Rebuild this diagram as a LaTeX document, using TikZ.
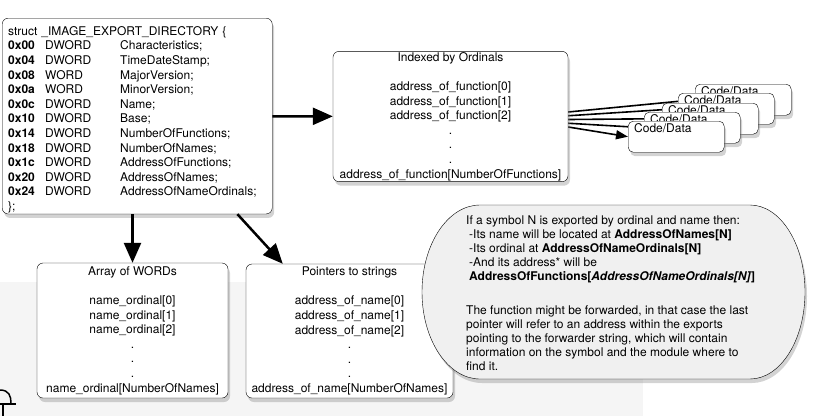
\documentclass[tikz,border=0pt]{standalone}
\usepackage{fontspec}
\setmainfont{TeX Gyre Heros}
\usetikzlibrary{positioning, arrows.meta, shadows}
\pgfdeclarelayer{background}
\pgfsetlayers{background,main}
\newcommand{\structrow}[3]{\makebox[37pt][l]{\bfseries #1}\makebox[75pt][l]{#2}#3}

\begin{document}
\begin{tikzpicture}[x=1pt, y=1pt, font=\fontsize{12}{14.6}\selectfont,
		box/.style={draw, rounded corners=6pt, fill=white, align=center, inner xsep=3pt, inner ysep=1pt, drop shadow={shadow xshift=2pt, shadow yshift=-4pt, opacity=0.35}},
		codebox/.style={draw, rounded corners=5pt, fill=white, anchor=north west, minimum width=96pt, minimum height=31pt, drop shadow={shadow xshift=2pt, shadow yshift=-4pt, opacity=0.35}},
		link/.style={-{Triangle[length=20pt, width=17pt]}, line width=2.5pt},
		thinlink/.style={-{Triangle[length=12pt, width=9pt]}, line width=1.6pt}]
		\useasboundingbox (0, 0) rectangle (824, -416);
		% export directory
		\node[box, align=left, text width=258pt, inner xsep=6pt, anchor=north west] (struct) at (2, -18) {\rule{0pt}{16pt}struct \_IMAGE\_EXPORT\_DIRECTORY \{\\
			\structrow{0x00}{DWORD}{Characteristics;}\\
			\structrow{0x04}{DWORD}{TimeDateStamp;}\\
			\structrow{0x08}{WORD}{MajorVersion;}\\
			\structrow{0x0a}{WORD}{MinorVersion;}\\
			\structrow{0x0c}{DWORD}{Name;}\\
			\structrow{0x10}{DWORD}{Base;}\\
			\structrow{0x14}{DWORD}{NumberOfFunctions;}\\
			\structrow{0x18}{DWORD}{NumberOfNames;}\\
			\structrow{0x1c}{DWORD}{AddressOfFunctions;}\\
			\structrow{0x20}{DWORD}{AddressOfNames;}\\
			\structrow{0x24}{DWORD}{AddressOfNameOrdinals;}\\
			\};};
		% the three arrays
		\node[box, minimum width=235pt, minimum height=129pt] (index) at (450.5, -116.5) {Indexed by Ordinals\\[14.6pt]
			address\_of\_function[0]\\
			address\_of\_function[1]\\
			address\_of\_function[2]\\
			.\\
			.\\
			.\\
			address\_of\_function[NumberOfFunctions]};
		\node[box, minimum width=191pt, minimum height=135pt] (ordinals) at (132.5, -330.5) {Array of WORDs\\[14.6pt]
			name\_ordinal[0]\\
			name\_ordinal[1]\\
			name\_ordinal[2]\\
			.\\
			.\\
			.\\
			name\_ordinal[NumberOfNames]};
		\node[box, minimum width=207pt, minimum height=134pt] (names) at (349.5, -331) {Pointers to strings\\[14.6pt]
			address\_of\_name[0]\\
			address\_of\_name[1]\\
			address\_of\_name[2]\\
			.\\
			.\\
			.\\
			address\_of\_name[NumberOfNames]};
		% code and data blocks
		\node[codebox, label={[anchor=north west, inner xsep=6pt, inner ysep=2pt]north west:Code/Data}] (code4) at (695, -84) {};
		\node[codebox, label={[anchor=north west, inner xsep=6pt, inner ysep=2pt]north west:Code/Data}] (code3) at (678, -93) {};
		\node[codebox, label={[anchor=north west, inner xsep=6pt, inner ysep=2pt]north west:Code/Data}] (code2) at (662, -103) {};
		\node[codebox, label={[anchor=north west, inner xsep=6pt, inner ysep=2pt]north west:Code/Data}] (code1) at (644, -112) {};
		\node[codebox, label={[anchor=north west, inner xsep=6pt, inner ysep=2pt]north west:Code/Data}] (code0) at (628, -121) {};
		% arrows
		\draw[link] (struct) -- (index);
		\draw[link] (ordinals.north |- struct.south) -- (ordinals.north);
		\draw[link] ([xshift=-35pt]struct.south east) -- ([xshift=37pt]names.north west);
		\begin{pgfonlayer}{background}
			\fill[black!4] (0, -282) rectangle (643, -416);
			\draw[thinlink] ([yshift=-10.5pt]index.east) -- (code0.west);
			\draw[thinlink] ([yshift=-6.75pt]index.east) -- (code1.west);
			\draw[thinlink] ([yshift=-3pt]index.east) -- (code2.west);
			\draw[thinlink] ([yshift=0.75pt]index.east) -- (code3.west);
			\draw[thinlink] ([yshift=4.5pt]index.east) -- (code4.west);
		\end{pgfonlayer}
		% note
		\draw[fill=black!6, drop shadow={shadow xshift=2pt, shadow yshift=-4pt, opacity=0.35}] (480, -205) -- (750, -205) arc[start angle=90, end angle=-90, x radius=55, y radius=87] -- (480, -379) arc[start angle=270, end angle=90, x radius=58, y radius=87] -- cycle;
		\node[anchor=north west, align=left, inner sep=0pt, font=\fontsize{12}{14}\selectfont] (note) at (466, -216) {If a symbol N is exported by ordinal and name then:\\
			\hspace*{3pt}-Its name will be located at \textbf{AddressOfNames[N]}\\
			\hspace*{3pt}-Its ordinal at \textbf{AddressOfNameOrdinals[N]}\\
			\hspace*{3pt}-And its address* will be\\
			\hspace*{3pt}\textbf{AddressOfFunctions[\textit{AddressOfNameOrdinals[N]}]}\\[20pt]
			The function might be forwarded, in that case the last\\
			pointer will refer to an address within the exports\\
			pointing to the forwarder string, which will contain\\
			information on the symbol and the module where to\\
			find it.};
		% lock fragment
		\draw[line width=1.5pt] (0, -390) .. controls (9, -390) and (11, -396) .. (11, -403);
		\draw[line width=2.5pt] (0, -404) -- (16, -404);
		\draw[line width=1.2pt] (3, -404) -- (3, -416);
	\end{tikzpicture}
\end{document}
